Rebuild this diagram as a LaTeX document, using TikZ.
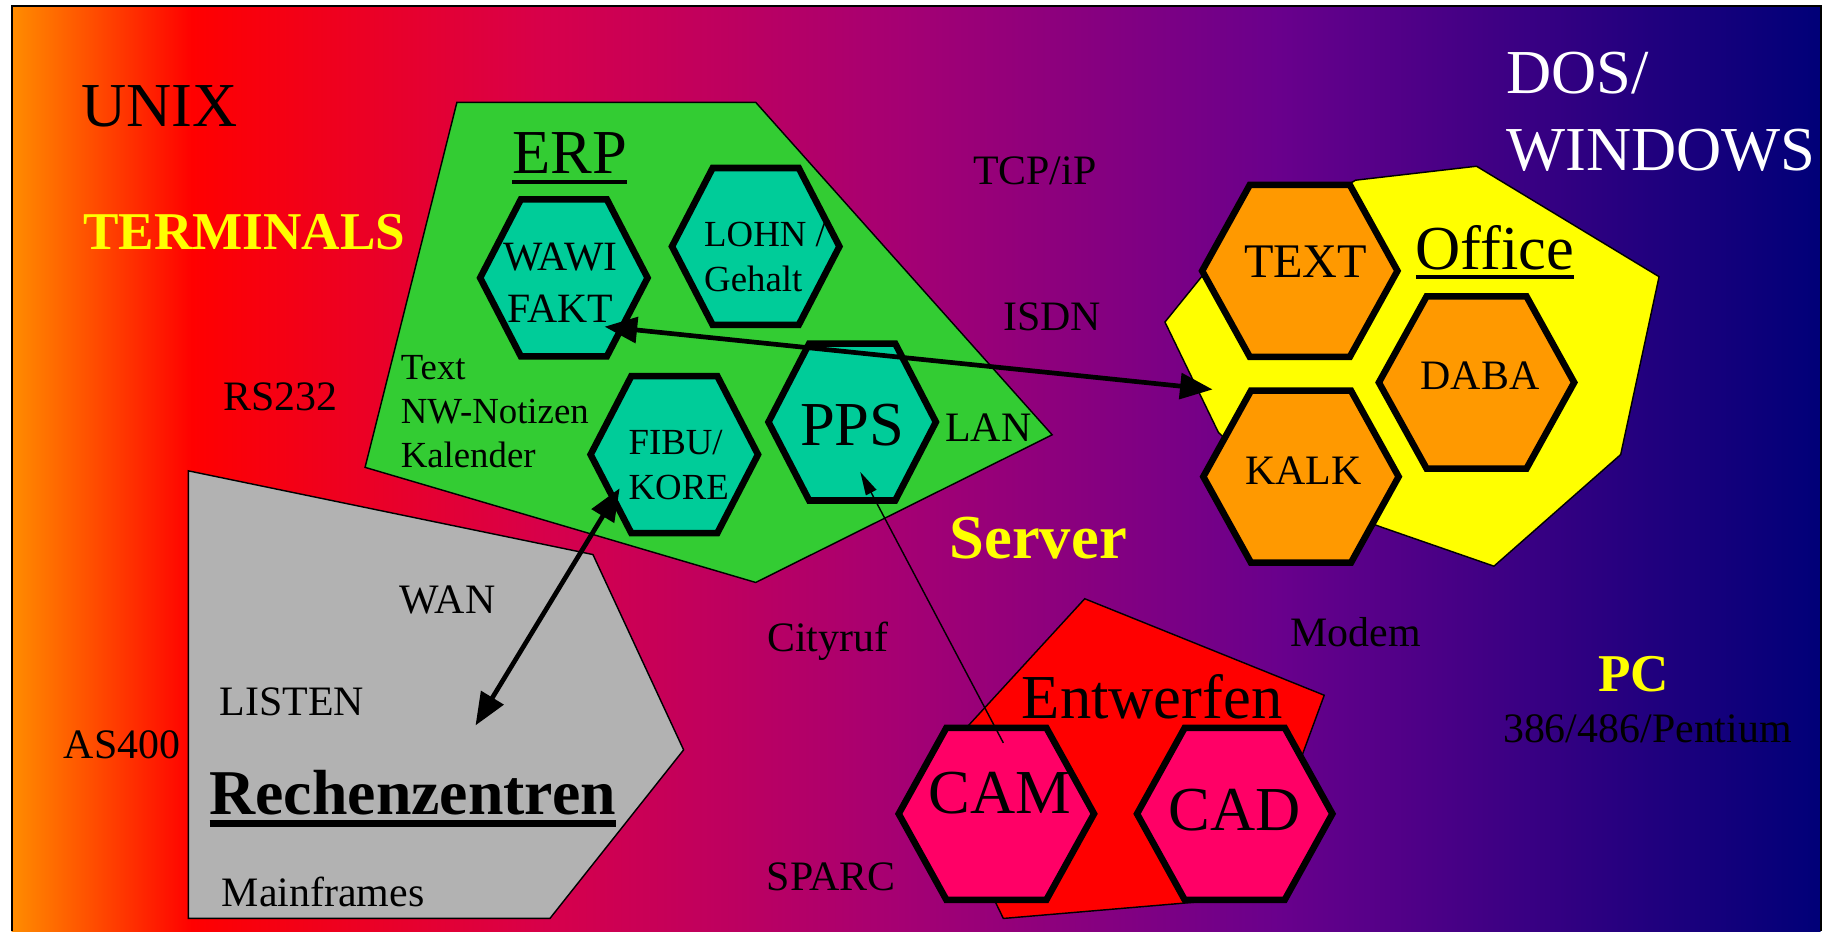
\documentclass[tikz,border=0pt]{standalone}
\usepackage{fontspec}
\setmainfont{Liberation Serif}
\usetikzlibrary{arrows.meta}
\definecolor{cA}{RGB}{255,140,0}
\definecolor{cB}{RGB}{255,0,0}
\definecolor{cC}{RGB}{215,0,75}
\definecolor{cD}{RGB}{165,0,115}
\definecolor{cE}{RGB}{105,0,140}
\definecolor{cF}{RGB}{0,0,120}
\definecolor{teal}{RGB}{0,204,153}
\definecolor{orng}{RGB}{255,153,0}
\definecolor{pink}{RGB}{255,0,102}
\definecolor{grn}{RGB}{51,204,51}
\definecolor{gry}{RGB}{178,178,178}
\definecolor{yel}{RGB}{255,255,0}
\definecolor{rd}{RGB}{255,0,0}
\newsavebox\ulbox
\newcommand\ulin[3]{\sbox\ulbox{#3}\rlap{\usebox\ulbox}\raisebox{-#1}{\rule{\wd\ulbox}{#2}}}
\newcommand\hexa[7]{%
  \draw[hexline, fill=#7] (#2-#6,#3-#5) -- (#2+#6,#3-#5) -- (#2+#4,#3) -- (#2+#6,#3+#5) -- (#2-#6,#3+#5) -- (#2-#4,#3) -- cycle;
  \coordinate (#1) at (#2,#3);}
\tikzset{
  lbl/.style={inner sep=0pt, anchor=base, font=\fontsize{10.25}{12}\selectfont},
  big/.style={inner sep=0pt, anchor=base, font=\fontsize{15.3}{18}\selectfont},
  hexline/.style={draw=black, line width=1.6pt},
  region/.style={draw=black, line width=0.35pt},
  thickarrow/.style={line width=1.15pt, {Triangle[length=0.28cm,width=0.22cm]}-{Triangle[length=0.28cm,width=0.22cm]}},
  thinarrow/.style={line width=0.35pt, -{Triangle[length=0.2cm,width=0.1cm]}},
}
\begin{document}
\begin{tikzpicture}[x=0.01cm,y=-0.01cm]
\useasboundingbox (0,0) rectangle (1568,801);
\fill[white] (0,0) rectangle (1568,801);
% background gradient
\shade[left color=cA, right color=cB] (10,5) rectangle (165.5,801);
\shade[left color=cB, right color=cC] (165,5) rectangle (470.5,801);
\shade[left color=cC, right color=cD] (470,5) rectangle (775.5,801);
\shade[left color=cD, right color=cE] (775,5) rectangle (1100.5,801);
\shade[left color=cE, right color=cF] (1100,5) rectangle (1566,801);
\draw[line width=0.5pt] (10,801) -- (10,5) -- (1566,5) -- (1566,801);
% regions
\draw[region, fill=gry] (162,405) -- (510,477) -- (588,645) -- (473,790) -- (162,790) -- cycle;
\draw[region, fill=grn] (393,88) -- (650,88) -- (905,374) -- (650,501) -- (314,402) -- cycle;
\draw[region, fill=yel] (1166,155) -- (1270,143) -- (1427,238) -- (1394,391) -- (1285,487) -- (1187,453) -- (1100,420) -- (1048,372) -- (1002,277) -- (1040,230) -- cycle;
\draw[region, fill=rd] (933,515) -- (1139,598) -- (1075,772) -- (863,790) -- (800,660) -- cycle;
% hexagons
\hexa{wawihex}{485}{239}{72}{67.5}{37}{teal}
\hexa{lohnhex}{650}{212}{72}{67.5}{37}{teal}
\hexa{fibuhex}{580}{391}{72}{67.5}{37}{teal}
\hexa{ppshex}{733}{363}{72}{67.5}{37}{teal}
\hexa{texthex}{1118}{233}{84}{74}{43}{orng}
\hexa{dabahex}{1270}{329}{84}{74}{43}{orng}
\hexa{kalkhex}{1119}{410}{84}{74}{43}{orng}
\hexa{camhex}{857}{700}{84}{74}{43}{pink}
\hexa{cadhex}{1062}{700}{84}{74}{43}{pink}
% connector end points
\coordinate (wawiTip) at (520,281);
\coordinate (officeTip) at (1043,335);
\coordinate (fibuTip) at (533,420);
\coordinate (rzTip) at (409,624);
\coordinate (camStart) at (863,639);
\coordinate (ppsTip) at (740,406);
% texts
\node[big] (unix) at (137,109) {UNIX};
\node[inner sep=0pt, anchor=base, font=\fontsize{13}{15}\selectfont\bfseries, text=yel] (term) at (210,215) {TERMINALS};
\node[lbl] (rs) at (241,353) {RS232};
\node[big] (erp) at (490,149) {\ulin{2.6pt}{0.95pt}{ERP}};
\node[inner sep=0pt, align=center, font=\fontsize{10.2}{12.8}\selectfont] (wawi) at (482,243) {WAWI\\FAKT};
\node[inner sep=0pt, anchor=west, align=left, font=\fontsize{9}{10.8}\selectfont] (lohn) at (605,221) {LOHN /\\Gehalt};
\node[inner sep=0pt, anchor=west, align=left, font=\fontsize{9}{11.1}\selectfont] (fibu) at (540,400) {FIBU/\\KORE};
\node[big] (pps) at (733,383) {PPS};
\node[inner sep=0pt, anchor=west, align=left, font=\fontsize{9}{10.8}\selectfont] (notiz) at (344,354) {Text\\NW-Notizen\\Kalender};
\node[lbl] (lan) at (850,380) {LAN};
\node[lbl] (tcp) at (890,159) {TCP/iP};
\node[lbl] (isdn) at (905,284) {ISDN};
\node[inner sep=0pt, anchor=west, align=left, text=white, font=\fontsize{15.3}{18.8}\selectfont] (dos) at (1295,96) {DOS/\\WINDOWS};
\node[big] (office) at (1286,232) {\ulin{2.3pt}{1pt}{Office}};
\node[inner sep=0pt, anchor=base, font=\fontsize{11.8}{14}\selectfont] (text) at (1123,239) {TEXT};
\node[lbl] (daba) at (1273,335) {DABA};
\node[lbl] (kalk) at (1121,417) {KALK};
\node[inner sep=0pt, anchor=base, font=\fontsize{15.3}{18}\selectfont\bfseries, text=yel] (server) at (893,480) {Server};
\node[lbl] (city) at (712,560) {Cityruf};
\node[lbl] (wan) at (385,528) {WAN};
\node[lbl] (listen) at (251,615) {LISTEN};
\node[lbl] (as) at (105,652) {AS400};
\node[inner sep=0pt, anchor=base, font=\fontsize{15.6}{18}\selectfont\bfseries] (rz) at (355,701) {\ulin{2.85pt}{1.6pt}{Rechenzentren}};
\node[lbl] (main) at (278,780) {Mainframes};
\node[lbl] (sparc) at (715,766) {SPARC};
\node[lbl] (modem) at (1166,556) {Modem};
\node[inner sep=0pt, anchor=base, font=\fontsize{13}{15}\selectfont\bfseries, text=yel] (pc) at (1405,595) {PC};
\node[lbl] (pent) at (1417,639) {386/486/Pentium};
\node[big] (entw) at (991,618) {Entwerfen};
\node[big] (cam) at (860,700) {CAM};
\node[big] (cad) at (1062,714) {CAD};
% connectors
\draw[thickarrow] (wawiTip) -- (officeTip);
\draw[thickarrow] (fibuTip) -- (rzTip);
\draw[thinarrow] (camStart) -- (ppsTip);
\end{tikzpicture}
\end{document}
